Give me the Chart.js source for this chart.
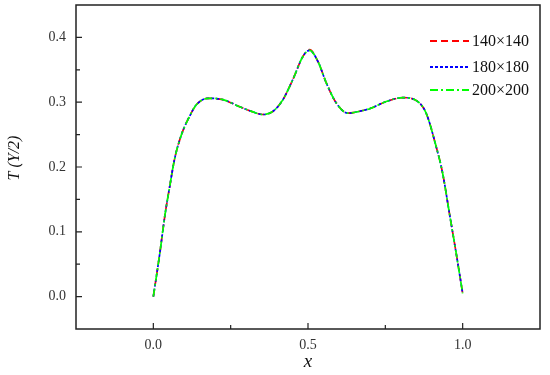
<!DOCTYPE html>
<html>
<head>
<meta charset="utf-8">
<script src="https://cdn.jsdelivr.net/npm/chart.js@4"></script>
<style>
  html, body { margin: 0; padding: 0; background: #fff; }
  #wrap { width: 550px; height: 375px; }
</style>
</head>
<body>
<div id="wrap"><canvas id="tChart"></canvas></div>
<script>
// x positions along Y/2 line
const xs = [0, 0.021, 0.037, 0.053, 0.069, 0.091, 0.118, 0.139, 0.177, 0.225, 0.279, 0.322, 0.354, 0.387,
  0.419, 0.451, 0.484, 0.505, 0.532, 0.559, 0.591, 0.629, 0.667, 0.699, 0.753, 0.806, 0.855, 0.882,
  0.914, 0.935, 0.957, 0.979, 1.0];

const t140 = [0, 0.067, 0.124, 0.170, 0.213, 0.250, 0.279, 0.296, 0.306, 0.304, 0.293, 0.285, 0.281, 0.286,
  0.304, 0.335, 0.371, 0.381, 0.363, 0.330, 0.299, 0.283, 0.286, 0.290, 0.301, 0.307, 0.301, 0.283,
  0.232, 0.191, 0.129, 0.067, 0.005];
const t180 = [0, 0.067, 0.124, 0.170, 0.213, 0.250, 0.279, 0.296, 0.306, 0.304, 0.293, 0.285, 0.281, 0.286,
  0.304, 0.335, 0.371, 0.380, 0.363, 0.330, 0.299, 0.283, 0.286, 0.290, 0.301, 0.307, 0.301, 0.283,
  0.232, 0.191, 0.129, 0.067, 0.005];
const t200 = [0, 0.067, 0.124, 0.170, 0.213, 0.250, 0.279, 0.296, 0.306, 0.304, 0.293, 0.285, 0.281, 0.286,
  0.304, 0.335, 0.371, 0.380, 0.363, 0.330, 0.299, 0.283, 0.286, 0.290, 0.301, 0.307, 0.301, 0.283,
  0.232, 0.191, 0.129, 0.067, 0.005];

const seriesLabels = ['140\u00d7140', '180\u00d7180', '200\u00d7200'];
const xTicks = [0, 0.5, 1.0];
const xMinor = [0.25, 0.75];
const yTicks = [0, 0.1, 0.2, 0.3, 0.4];
const yMinor = [0.05, 0.15, 0.25, 0.35];

function pts(ys){
  return xs.map((x, i) => ({x: x, y: ys[i]}));
}

const serif = '"Liberation Serif", "Times New Roman", serif';

// frame, inward ticks, legend and axis titles
const framePlugin = {
  id: 'frame',
  afterDraw(chart){
    const ctx = chart.ctx;
    const a = chart.chartArea;
    const sx = chart.scales.x, sy = chart.scales.y;
    ctx.save();
    ctx.strokeStyle = '#222';
    ctx.lineWidth = 1.5;
    ctx.setLineDash([]);
    ctx.strokeRect(a.left, a.top, a.right - a.left, a.bottom - a.top);

    ctx.lineWidth = 1.2;
    ctx.beginPath();
    xTicks.forEach(v => { const p = sx.getPixelForValue(v); ctx.moveTo(p, a.bottom); ctx.lineTo(p, a.bottom - 6); });
    xMinor.forEach(v => { const p = sx.getPixelForValue(v); ctx.moveTo(p, a.bottom); ctx.lineTo(p, a.bottom - 4); });
    yTicks.forEach(v => { const p = sy.getPixelForValue(v); ctx.moveTo(a.left, p); ctx.lineTo(a.left + 6, p); });
    yMinor.forEach(v => { const p = sy.getPixelForValue(v); ctx.moveTo(a.left, p); ctx.lineTo(a.left + 4, p); });
    ctx.stroke();

    // legend
    const rows = [41, 67, 90];
    ctx.font = '16px ' + serif;
    ctx.textBaseline = 'middle';
    ctx.textAlign = 'left';
    chart.data.datasets.forEach((ds, i) => {
      ctx.strokeStyle = ds.borderColor;
      ctx.lineWidth = 1.8;
      ctx.setLineDash(ds.borderDash);
      ctx.beginPath();
      ctx.moveTo(430, rows[i]);
      ctx.lineTo(469, rows[i]);
      ctx.stroke();
      ctx.fillStyle = '#111';
      ctx.fillText(ds.label, 472, rows[i] + 1);
    });
    ctx.setLineDash([]);

    // axis titles
    ctx.fillStyle = '#111';
    ctx.font = 'italic 16px ' + serif;
    ctx.textAlign = 'center';
    ctx.save();
    ctx.translate(15, 158);
    ctx.rotate(-Math.PI / 2);
    ctx.fillText('T (Y/2)', 0, 0);
    ctx.restore();
    ctx.font = 'italic 19px ' + serif;
    ctx.fillText('x', 308, 362);
    ctx.restore();
  }
};

const data = {
  datasets: [{
    label: seriesLabels[0],
    data: pts(t140),
    borderColor: '#ff0000',
    borderDash: [7, 4],
    borderWidth: 1.7,
    order: 2
  },
  {
    label: seriesLabels[1],
    data: pts(t180),
    borderColor: '#0000ff',
    borderDash: [3, 2],
    borderWidth: 1.7,
    order: 1
  },
  {
    label: seriesLabels[2],
    data: pts(t200),
    borderColor: '#00ff00',
    borderDash: [8, 3, 2, 3],
    borderWidth: 1.7,
    order: 0
  }]
};

const options = {
  responsive: true,
  maintainAspectRatio: false,
  animation: false,
  elements: { point: { radius: 0 }, line: { cubicInterpolationMode: 'monotone' } },
  layout: { padding: { left: 0, top: 5, right: 10, bottom: 0 } },
  plugins: {
    legend: { display: false },
    tooltip: { enabled: false }
  },
  scales: {
    x: {
      type: 'linear',
      min: -0.25,
      max: 1.25,
      grid: { display: false, drawTicks: false },
      border: { display: false },
      afterBuildTicks: s => { s.ticks = xTicks.map(v => ({value: v})); },
      afterFit: s => { s.height = 46; s.paddingLeft = 0; s.paddingRight = 0; },
      ticks: {
        padding: 8,
        color: '#333',
        font: { family: serif, size: 14 },
        callback: v => v.toFixed(1)
      }
    },
    y: {
      min: -0.05,
      max: 0.45,
      grid: { display: false, drawTicks: false },
      border: { display: false },
      afterBuildTicks: s => { s.ticks = yTicks.map(v => ({value: v})); },
      afterFit: s => { s.width = 76; s.paddingTop = 0; s.paddingBottom = 0; },
      ticks: {
        padding: 10,
        color: '#333',
        font: { family: serif, size: 14 },
        callback: v => v.toFixed(1)
      }
    }
  }
};

const config = {
  type: 'line',
  data: data,
  options: options,
  plugins: [framePlugin]
};

const tCanvas = document.getElementById('tChart').getContext('2d');
const tChart = new Chart(tCanvas, config);
</script>
</body>
</html>
